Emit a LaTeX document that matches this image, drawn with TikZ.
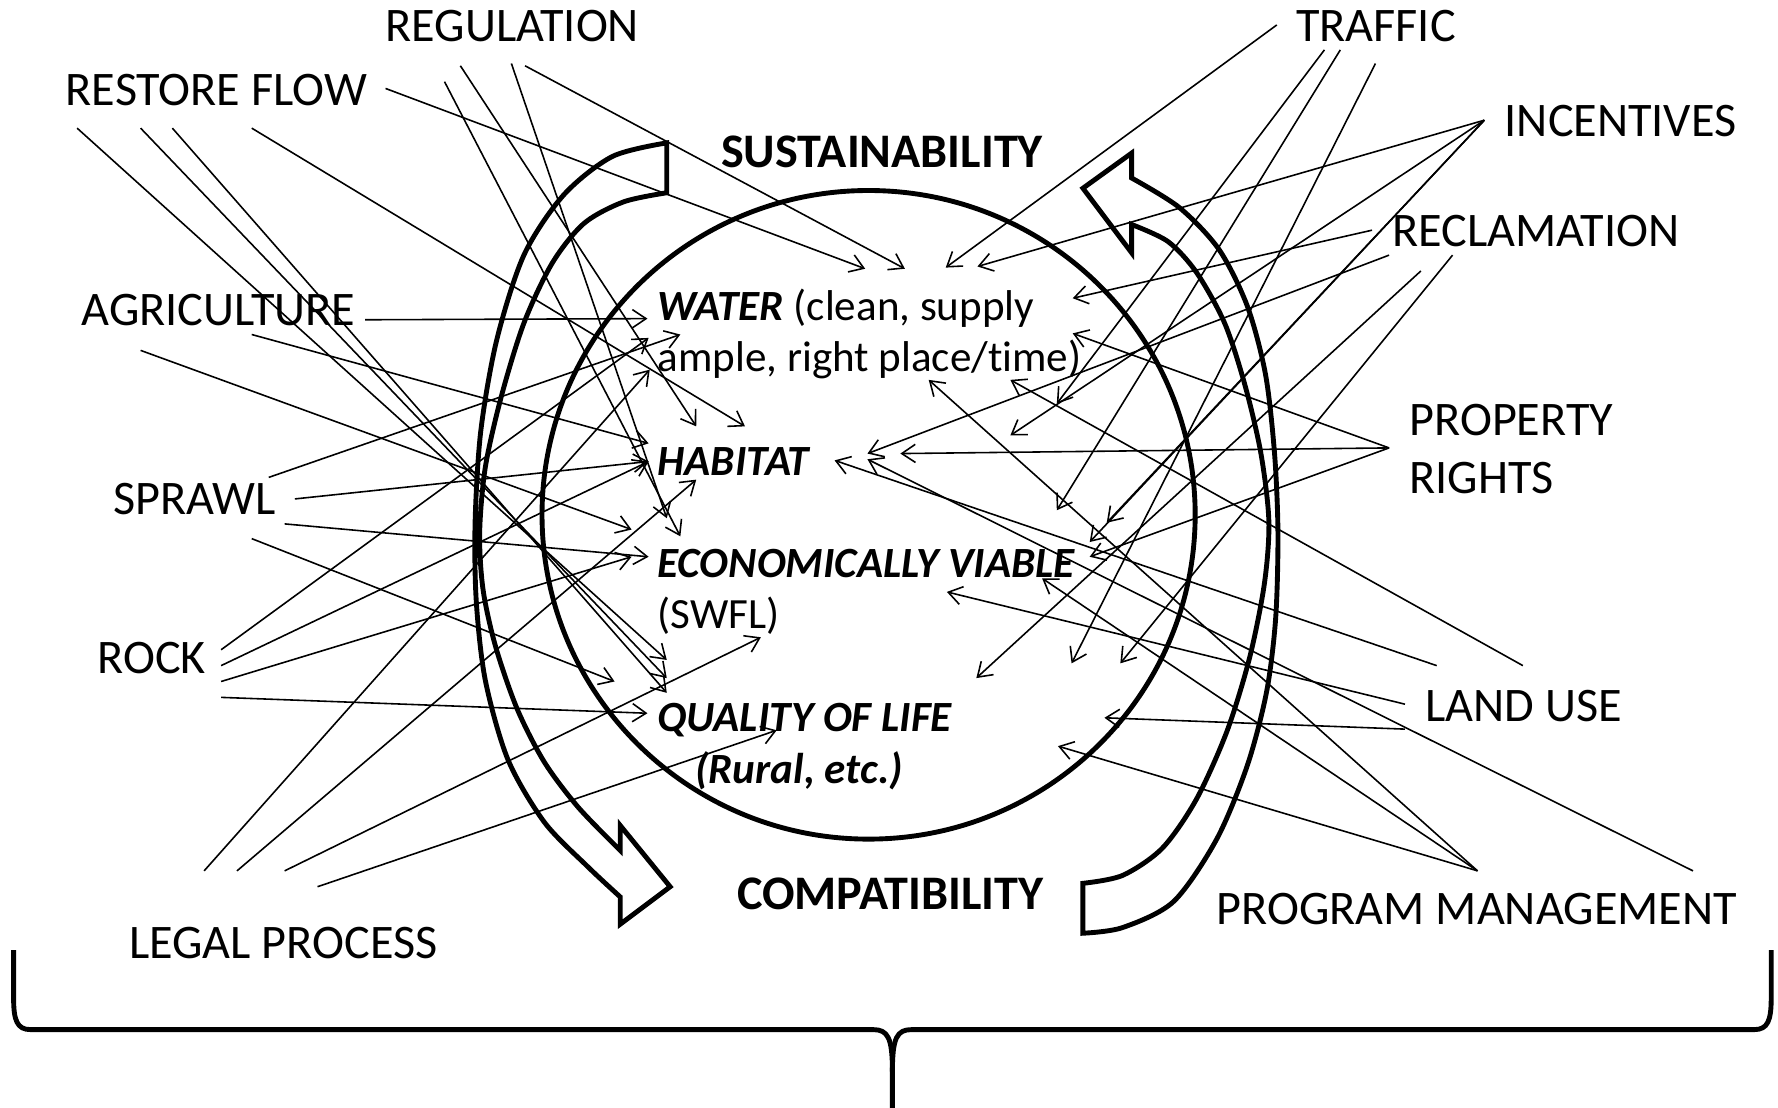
\documentclass[tikz,border=0pt]{standalone}
\usepackage{fontspec}
\setmainfont{Carlito}[Ligatures=NoCommon]
\usetikzlibrary{arrows.meta}
\newcommand{\lblsize}{\fontsize{42.5pt}{46pt}\selectfont}
\newcommand{\insize}{\fontsize{38pt}{42pt}\selectfont}
\begin{document}
\begin{tikzpicture}[x=1pt,y=-1pt,
  lbl/.style={anchor=base west, inner sep=0pt, outer sep=0pt, font=\lblsize},
  blbl/.style={lbl, font=\lblsize\bfseries},
  ilbl/.style={lbl, font=\insize},
  bilbl/.style={lbl, font=\insize\bfseries\itshape},
  conn/.style={-{Straight Barb[length=12pt,width=16pt]}, line width=1.4pt},
  heavy/.style={line width=4.3pt, line join=miter},
]
\useasboundingbox (0,0) rectangle (1568,977);

% ---------- labels ----------
\node[lbl] (reg) at (340,37) {REGULATION};
\node[lbl] (rfl) at (58,93) {RESTORE FLOW};
\node[lbl] (agr) at (72,287) {AGRICULTURE};
\node[lbl] (spr) at (100,454) {SPRAWL};
\node[lbl] (rock) at (86,594) {ROCK};
\node[lbl] (legal) at (114,845) {LEGAL PROCESS};
\node[lbl] (traf) at (1143,37) {TRAFFIC};
\node[lbl] (inc) at (1327,120) {INCENTIVES};
\node[lbl] (recl) at (1228,217) {RECLAMATION};
\node[lbl] (prop1) at (1243,384) {PROPERTY};
\node[lbl] (prop2) at (1243,435) {RIGHTS};
\node[lbl] (land) at (1257,636) {LAND USE};
\node[lbl] (prog) at (1073,815) {PROGRAM MANAGEMENT};
\node[blbl] (sust) at (636,148) {SUSTAINABILITY};
\node[blbl] (comp) at (650,802) {COMPATIBILITY};
\node[ilbl] (w1) at (580,283) {\textbf{\textit{WATER}} (clean, supply};
\node[ilbl] (w2) at (580,328) {ample, right place/time)};
\node[bilbl] (hab) at (580,419) {HABITAT};
\node[bilbl] (econ) at (580,509) {ECONOMICALLY VIABLE};
\node[ilbl] (swfl) at (580,554) {(SWFL)};
\node[bilbl] (qol) at (580,645) {QUALITY OF LIFE};
\node[bilbl] (rur) at (613,691) {(Rural, etc.)};

% ---------- central circle ----------
\draw[heavy] (766,454) ellipse [x radius=288pt, y radius=286pt];

% ---------- left block arrow (down) ----------
\draw[heavy] plot[smooth] coordinates {(588,126) (540,138) (497,172) (462,225) (438,300) (424,380) (419,460) (420,530) (428,600) (448,670) (480,725) (518,764) (547,791)}
  -- (547,815) -- (591,782) -- (547,728) -- (547,750)
  -- plot[smooth] coordinates {(547,750) (510,712) (480,672) (456,625) (437,570) (426,520) (423,470) (428,412) (442,350) (462,285) (487,232) (515,197) (550,178) (588,170)}
  -- cycle;

% ---------- right block arrow (up) ----------
\draw[heavy] plot[smooth] coordinates {(998,157) (1040,183) (1075,220) (1100,270) (1116,330) (1124,400) (1127,470) (1125,545) (1117,610) (1100,675) (1073,740) (1035,795) (990,818) (955,823)}
  -- (955,779)
  -- plot[smooth] coordinates {(955,779) (990,772) (1025,748) (1055,705) (1082,645) (1102,580) (1115,515) (1119,460) (1112,400) (1098,340) (1080,285) (1055,240) (1030,213) (998,198)}
  -- (998,223) -- (955,166) -- (998,135) -- cycle;

% ---------- bottom brace ----------
\draw[heavy, line join=round] (12,838) -- (12,880) .. controls (12,900) and (15,908) .. (27,908) -- (770,908)
  .. controls (783,908) and (787,915) .. (787,945) -- (787,977);
\draw[heavy, line join=round] (787,945) .. controls (787,915) and (791,908) .. (804,908) -- (1547,908)
  .. controls (1559,908) and (1562,900) .. (1562,880) -- (1562,838);

% ---------- connector end points ----------
% left sources
\coordinate (reg1) at (392,72);  \coordinate (reg2) at (406,58);
\coordinate (reg3) at (451,56);  \coordinate (reg4) at (463,58);
\coordinate (rf1) at (340,78);   \coordinate (rf2) at (68,113);
\coordinate (rf3) at (124,113);  \coordinate (rf4) at (152,113);
\coordinate (rf5) at (222,113);
\coordinate (ag1) at (322,282);  \coordinate (ag2) at (222,295);
\coordinate (ag3) at (124,309);
\coordinate (sp1) at (237,421);  \coordinate (sp2) at (260,440);
\coordinate (sp3) at (251,462);  \coordinate (sp4) at (222,475);
\coordinate (rk1) at (195,573);  \coordinate (rk2) at (195,587);
\coordinate (rk3) at (195,601);  \coordinate (rk4) at (195,615);
\coordinate (lg1) at (180,768);  \coordinate (lg2) at (209,768);
\coordinate (lg3) at (251,768);  \coordinate (lg4) at (280,782);
% right sources
\coordinate (tr1) at (1126,22);  \coordinate (tr2) at (1168,44);
\coordinate (tr3) at (1182,44);  \coordinate (tr4) at (1213,56);
\coordinate (inc0) at (1309,106);
\coordinate (rc1) at (1210,203); \coordinate (rc2) at (1225,225);
\coordinate (rc3) at (1253,239); \coordinate (rc4) at (1281,225);
\coordinate (pr0) at (1225,395);
\coordinate (lu1) at (1343,587); \coordinate (lu2) at (1267,587);
\coordinate (lu3) at (1239,621); \coordinate (lu4) at (1239,643);
\coordinate (pm1) at (1303,768); \coordinate (pm2) at (1493,768);

% targets (left group)
\coordinate (tA) at (600,473);  \coordinate (tB) at (614,376);
\coordinate (tC) at (588,457);  \coordinate (tD) at (798,237);
\coordinate (tE) at (763,237);  \coordinate (tF) at (588,582);
\coordinate (tG) at (588,598);  \coordinate (tH) at (588,611);
\coordinate (tI) at (657,376);  \coordinate (tJ) at (571,281);
\coordinate (tK) at (572,391);  \coordinate (tL) at (557,467);
\coordinate (tM) at (600,295);  \coordinate (tN) at (572,407);
\coordinate (tO) at (572,491);  \coordinate (tP) at (542,601);
\coordinate (tQ) at (572,298);  \coordinate (tR) at (614,423);
\coordinate (tS) at (557,491);  \coordinate (tT) at (571,629);
\coordinate (tU) at (573,326);  \coordinate (tV) at (671,562);
\coordinate (tW) at (685,644);
% targets (right group)
\coordinate (ua) at (834,236);  \coordinate (ub) at (932,356);
\coordinate (uc) at (932,450);  \coordinate (ud) at (945,585);
\coordinate (ue) at (862,235);  \coordinate (uf) at (891,384);
\coordinate (ug) at (976,461);  \coordinate (uh) at (961,478);
\coordinate (ui) at (946,263);  \coordinate (uj) at (765,400);
\coordinate (uk) at (861,598);  \coordinate (ul) at (988,585);
\coordinate (um) at (946,294);  \coordinate (un) at (794,400);
\coordinate (uo) at (961,491);  \coordinate (up) at (891,335);
\coordinate (uq) at (736,406);  \coordinate (ur) at (835,522);
\coordinate (us) at (974,633);  \coordinate (ut) at (819,335);
\coordinate (uu) at (919,510);  \coordinate (uv) at (933,658);
\coordinate (uw) at (765,405);

% ---------- connectors, left ----------
\draw[conn] (reg1) -- (tA);
\draw[conn] (reg2) -- (tB);
\draw[conn] (reg3) -- (tC);
\draw[conn] (reg4) -- (tD);
\draw[conn] (rf1) -- (tE);
\draw[conn] (rf2) -- (tF);
\draw[conn] (rf3) -- (tG);
\draw[conn] (rf4) -- (tH);
\draw[conn] (rf5) -- (tI);
\draw[conn] (ag1) -- (tJ);
\draw[conn] (ag2) -- (tK);
\draw[conn] (ag3) -- (tL);
\draw[conn] (sp1) -- (tM);
\draw[conn] (sp2) -- (tN);
\draw[conn] (sp3) -- (tO);
\draw[conn] (sp4) -- (tP);
\draw[conn] (rk1) -- (tQ);
\draw[conn] (rk2) -- (tN);
\draw[conn] (rk3) -- (tS);
\draw[conn] (rk4) -- (tT);
\draw[conn] (lg1) -- (tU);
\draw[conn] (lg2) -- (tR);
\draw[conn] (lg3) -- (tV);
\draw[conn] (lg4) -- (tW);

% ---------- connectors, right ----------
\draw[conn] (tr1) -- (ua);
\draw[conn] (tr2) -- (ub);
\draw[conn] (tr3) -- (uc);
\draw[conn] (tr4) -- (ud);
\draw[conn] (inc0) -- (ue);
\draw[conn] (inc0) -- (uf);
\draw[conn] (inc0) -- (ug);
\draw[conn] (inc0) -- (uh);
\draw[conn] (rc1) -- (ui);
\draw[conn] (rc2) -- (uj);
\draw[conn] (rc3) -- (uk);
\draw[conn] (rc4) -- (ul);
\draw[conn] (pr0) -- (um);
\draw[conn] (pr0) -- (un);
\draw[conn] (pr0) -- (uo);
\draw[conn] (lu1) -- (up);
\draw[conn] (lu2) -- (uq);
\draw[conn] (lu3) -- (ur);
\draw[conn] (lu4) -- (us);
\draw[conn] (pm1) -- (ut);
\draw[conn] (pm1) -- (uu);
\draw[conn] (pm1) -- (uv);
\draw[conn] (pm2) -- (uw);
\end{tikzpicture}
\end{document}
